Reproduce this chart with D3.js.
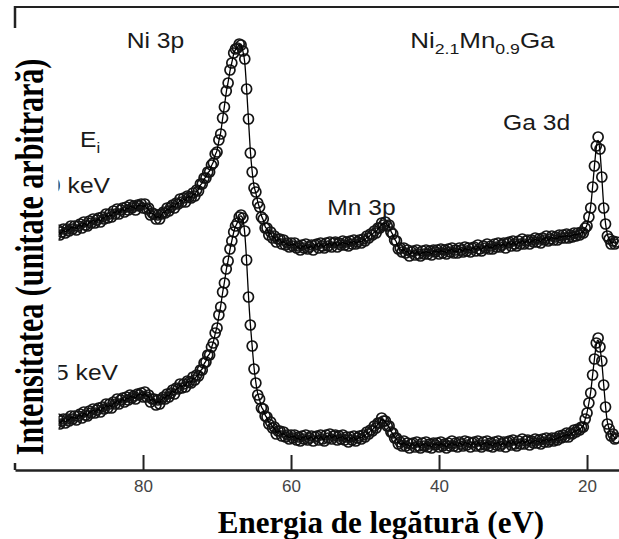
<!DOCTYPE html>
<html><head><meta charset="utf-8">
<script src="https://cdn.jsdelivr.net/npm/d3@7"></script>
<style>html,body{margin:0;padding:0;background:#fff;overflow:hidden}</style>
</head><body><svg id="c" width="619" height="539" xmlns="http://www.w3.org/2000/svg"></svg>
<script>
// Binding energy (eV) of every measured point
const bindingEnergy = [
92,91.75,91.5,91.25, 91,90.75,90.5,90.25, 90,89.75,89.5,89.25, 89,88.75,88.5,88.25,
88,87.75,87.5,87.25, 87,86.75,86.5,86.25, 86,85.75,85.5,85.25, 85,84.75,84.5,84.25,
84,83.75,83.5,83.25, 83,82.75,82.5,82.25, 82,81.75,81.5,81.25, 81,80.75,80.5,80.25,
80,79.75,79.5,79.25, 79,78.75,78.5,78.25, 78,77.75,77.5,77.25, 77,76.75,76.5,76.25,
76,75.75,75.5,75.25, 75,74.75,74.5,74.25, 74,73.75,73.5,73.25, 73,72.75,72.5,72.25,
72,71.75,71.5,71.25, 71,70.75,70.5,70.25, 70,69.75,69.5,69.25, 69,68.75,68.5,68.25,
68,67.75,67.5,67.25, 67,66.75,66.5,66.25, 66,65.75,65.5,65.25, 65,64.75,64.5,64.25,
64,63.75,63.5,63.25, 63,62.75,62.5,62.25, 62,61.75,61.5,61.25, 61,60.75,60.5,60.25,
60,59.75,59.5,59.25, 59,58.75,58.5,58.25, 58,57.75,57.5,57.25, 57,56.75,56.5,56.25,
56,55.75,55.5,55.25, 55,54.75,54.5,54.25, 54,53.75,53.5,53.25, 53,52.75,52.5,52.25,
52,51.75,51.5,51.25, 51,50.75,50.5,50.25, 50,49.75,49.5,49.25, 49,48.75,48.5,48.25,
48,47.75,47.5,47.25, 47,46.75,46.5,46.25, 46,45.75,45.5,45.25, 45,44.75,44.5,44.25,
44,43.75,43.5,43.25, 43,42.75,42.5,42.25, 42,41.75,41.5,41.25, 41,40.75,40.5,40.25,
40,39.75,39.5,39.25, 39,38.75,38.5,38.25, 38,37.75,37.5,37.25, 37,36.75,36.5,36.25,
36,35.75,35.5,35.25, 35,34.75,34.5,34.25, 34,33.75,33.5,33.25, 33,32.75,32.5,32.25,
32,31.75,31.5,31.25, 31,30.75,30.5,30.25, 30,29.75,29.5,29.25, 29,28.75,28.5,28.25,
28,27.75,27.5,27.25, 27,26.75,26.5,26.25, 26,25.75,25.5,25.25, 25,24.75,24.5,24.25,
24,23.75,23.5,23.25, 23,22.75,22.5,22.25, 22,21.75,21.5,21.25, 21,20.75,20.5,20.25,
20,19.75,19.5,19.25, 19,18.75,18.5,18.25, 18,17.75,17.5,17.25, 17,16.75,16.5,16.25,
16];

// Intensity (arbitrary units), upper spectrum
const intensityHigh = [
237,235,240,235, 238,241,237,241, 239,244,241,244, 240,244,246,242,
248,245,244,249, 247,251,247,250, 252,248,253,251, 256,252,256,253,
259,256,261,256, 260,262,258,263, 260,265,262,264, 260,265,264,266,
262,266,261,262, 255,257,256,251, 255,251,256,258, 257,262,259,263,
265,262,267,266, 271,268,272,268, 274,273,272,277, 274,280,279,286,
286,292,292,298, 298,305,307,316, 318,330,336,352, 363,379,387,400,
407,417,421,422, 426,425,419,411, 381,351,317,298, 282,278,267,263,
253,251,242,242, 235,238,232,234, 228,231,231,226, 230,225,227,223,
227,224,227,222, 224,220,225,222, 226,221,223,225, 220,225,226,222,
227,224,222,227, 224,228,223,227, 228,223,227,225, 229,225,228,224,
229,226,230,226, 228,230,227,231, 229,234,232,236, 235,239,237,242,
242,247,245,248, 244,245,238,236, 230,229,221,222, 218,222,217,220,
214,218,219,215, 220,216,214,219, 216,220,216,219, 215,220,218,220,
216,221,217,220, 216,221,218,222, 217,220,217,222, 220,218,223,219,
222,218,222,223, 219,225,221,219, 224,222,226,221, 224,221,226,223,
227,223,225,227, 222,227,228,224, 229,226,224,229, 226,231,226,229,
230,226,230,228, 232,228,231,227, 232,230,234,229, 231,234,230,233,
230,235,232,235, 232,236,232,235, 233,237,234,237, 235,238,237,242,
244,253,262,283, 304,324,333,321, 293,262,246,234, 231,226,229,226,
228];

// Intensity (arbitrary units), lower spectrum
const intensityLow = [
48,46,51,46, 49,51,47,51, 49,54,51,54, 50,54,56,52,
58,55,54,59, 57,61,57,60, 62,58,63,61, 66,62,66,62,
68,66,71,66, 70,72,68,73, 70,75,72,74, 71,76,75,77,
73,78,73,75, 68,71,71,65, 70,66,71,73, 71,76,73,77,
80,76,82,81, 86,82,86,83, 89,88,87,93, 90,95,94,100,
100,107,108,115, 115,123,127,137, 142,155,163,178, 187,201,209,221,
229,238,244,247, 253,255,252,239, 210,173,145,124, 101,87,75,71,
62,61,54,53, 46,48,42,43, 36,39,39,34, 38,33,35,31,
35,32,35,30, 33,29,34,31, 35,30,32,34, 29,33,34,30,
35,31,29,35, 32,36,31,34, 35,30,34,31, 35,30,33,28,
33,30,34,29, 32,34,31,35, 33,38,36,40, 39,44,42,47,
47,52,49,49, 44,44,38,37, 32,32,26,28, 24,29,24,27,
22,26,27,23, 28,24,22,27, 24,28,23,26, 22,27,25,27,
23,28,24,26, 22,27,24,29, 24,27,23,28, 26,24,29,25,
28,23,27,28, 24,29,25,23, 28,25,29,24, 27,23,28,25,
29,24,26,28, 23,28,29,25, 30,26,24,29, 26,31,26,29,
30,25,29,27, 31,27,30,26, 31,28,32,28, 30,32,29,32,
30,34,32,35, 33,37,33,37, 36,40,38,41, 40,43,43,51,
57,67,77,95, 111,127,132,123, 109,85,63,46, 41,34,36,31,
32];

const xTicks = [80, 60, 40, 20];
const spectrumLabels = ["10 keV", "2.5 keV"];
const peakLabels = ["Ni 3p", "Mn 3p", "Ga 3d"];
const xTitle = "Energia de legătură (eV)";
const yTitle = "Intensitatea (unitate arbitrară)";

const svg = d3.select("#c");
const x = d3.scaleLinear().domain([97.3, 15.68]).range([15, 619]);
const y = d3.scaleLinear().domain([0, 463]).range([470, 7]);

const sans = "'Liberation Sans', Arial, Helvetica, sans-serif";
const serif = "'Liberation Serif', 'Times New Roman', serif";

// spectra
const plot = svg.append("g");
[intensityHigh, intensityLow].forEach(vals => {
  const pts = bindingEnergy.map((e, i) => [e, vals[i]]);
  plot.append("g").selectAll("circle").data(pts).join("circle")
    .attr("cx", d => x(d[0])).attr("cy", d => y(d[1])).attr("r", 5)
    .attr("fill", "none").attr("stroke", "#141414").attr("stroke-width", 1.7);
  plot.append("path").datum(pts)
    .attr("d", d3.line().x(d => x(d[0])).y(d => y(d[1])).curve(d3.curveBasis))
    .attr("fill", "none").attr("stroke", "#000").attr("stroke-width", 1.3);
});

// frame
const [x0, x1] = x.range();
const [yb, yt] = y.range();
svg.append("line").attr("x1", x0).attr("x2", x1).attr("y1", yt).attr("y2", yt)
  .attr("stroke", "#222").attr("stroke-width", 2);
svg.append("line").attr("x1", x0).attr("x2", x0).attr("y1", yt - 1).attr("y2", yb)
  .attr("stroke", "#222").attr("stroke-width", 2.5);

// x axis
const ax = svg.append("g").attr("transform", `translate(0,${yb})`)
  .call(d3.axisBottom(x).tickValues(xTicks).tickSizeInner(-15).tickSizeOuter(0).tickPadding(10));
ax.select(".domain").attr("stroke", "#222").attr("stroke-width", 2.5);
ax.selectAll(".tick line").attr("stroke", "#222").attr("stroke-width", 2);
ax.selectAll(".tick text").attr("fill", "#444").attr("font-family", sans).attr("font-size", 17);

// annotations (placed in data coordinates)
function label(e, v, parts, anchor, sx) {
  const t = svg.append("text").attr("font-family", sans).attr("font-size", 22)
    .attr("fill", "#1a1a1a").attr("text-anchor", anchor || "start")
    .attr("transform", `translate(${x(e)},${y(v)}) scale(${sx || 1.12},1)`);
  parts.forEach(p => {
    const s = t.append("tspan").text(p[0]);
    if (p[1]) s.attr("font-size", 15).attr("dy", p[1]);
    if (p[2]) s.attr("dy", p[2]);
  });
  return t;
}
label(82.2, 422, [[peakLabels[0]]]);
label(55.1, 255, [[peakLabels[1]]]);
label(31.35, 340, [[peakLabels[2]]]);
label(43.9, 422, [["Ni"], ["2.1", 6], ["Mn", 0, -6], ["0.9", 6], ["Ga", 0, -6]], "start", 1.18);
label(88.5, 323, [["E"], ["i", 6]]);
label(84.46, 277, [[spectrumLabels[0]]], "end");
label(83.38, 90, [[spectrumLabels[1]]], "end");

// white panel holding the y title
svg.append("rect").attr("x", 0).attr("y", 28).attr("width", 58.5).attr("height", 435).attr("fill", "#fff");
svg.append("text").attr("font-family", serif).attr("font-weight", "bold").attr("font-size", 30)
  .attr("fill", "#000").attr("text-anchor", "middle")
  .attr("transform", "translate(43,257) rotate(-90) scale(1,1.3)").text(yTitle);

svg.append("text").attr("font-family", serif).attr("font-weight", "bold").attr("font-size", 31)
  .attr("fill", "#000").attr("text-anchor", "middle")
  .attr("x", 381).attr("y", 533).text(xTitle);
</script></body></html>
